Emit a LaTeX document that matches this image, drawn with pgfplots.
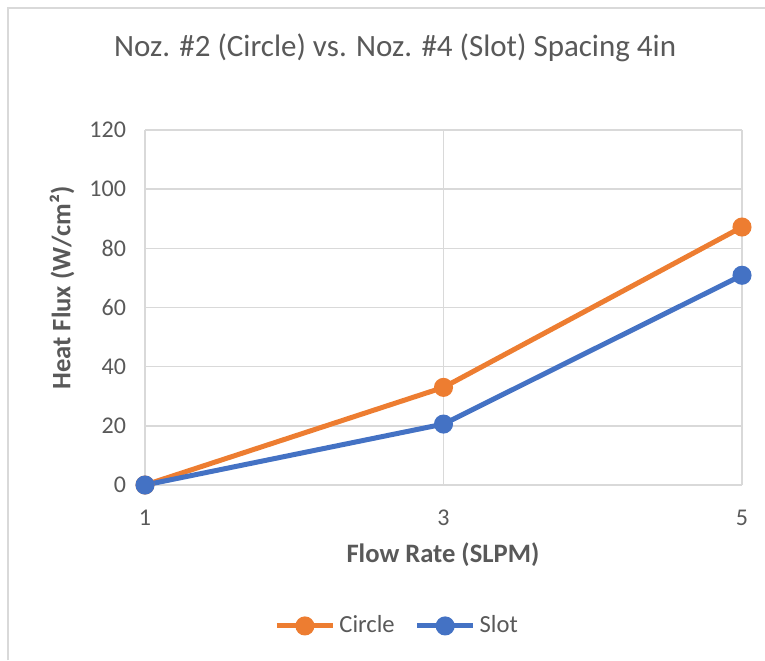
\documentclass[border=0pt]{standalone}
\usepackage{pgfplots}
\pgfplotsset{compat=1.18}
\usepackage{fontspec}
\setmainfont{Carlito}
\definecolor{cOrange}{HTML}{ED7D31}
\definecolor{cBlue}{HTML}{4472C4}
\definecolor{cGrid}{HTML}{D9D9D9}
\definecolor{cText}{HTML}{595959}
\begin{document}
\begin{tikzpicture}
\path[use as bounding box] (0,0) rectangle (382.5pt,330pt);
\draw[cGrid, line width=0.75pt] (4pt,0pt) -- (4pt,326pt) -- (382.5pt,326pt);
\begin{axis}[
  at={(72.5pt,87.5pt)}, anchor=origin,
  scale only axis, width=298.5pt, height=177.5pt,
  xmin=1, xmax=5, ymin=0, ymax=120,
  xtick={1,3,5}, ytick={0,20,...,120},
  axis line style={draw=none},
  major tick length=0pt,
  grid=major,
  major grid style={cGrid, line width=0.75pt},
  tick label style={font=\fontsize{12}{14}\selectfont, text=cText},
  /pgf/number format/assume math mode=true,
  xticklabel style={yshift=-9pt},
  yticklabel style={xshift=-6pt},
  every axis title shift=0pt,
  title={Noz. \#2 (Circle) vs. Noz. \#4 (Slot) Spacing 4in},
  title style={at={(axis description cs:0.419,1.231)}, anchor=center, font=\fontsize{15.5}{18}\selectfont, text=cText},
  xlabel={\textbf{Flow Rate (SLPM)}},
  xlabel style={at={(axis description cs:0.499,-0.197)}, anchor=center, font=\fontsize{13.3}{15}\selectfont, text=cText},
  ylabel={\textbf{Heat Flux (W/cm²)}},
  ylabel style={at={(axis description cs:-0.139,0.555)}, anchor=center, rotate=0, font=\fontsize{13.3}{15}\selectfont, text=cText},
  legend columns=2,
  legend style={at={(axis description cs:0.424,-0.397)}, anchor=center, draw=none, font=\fontsize{12.3}{14}\selectfont, text=cText, /tikz/every even column/.append style={column sep=8pt}},
  legend image code/.code={\draw[#1, mark repeat=2, mark phase=2] plot coordinates {(0pt,0pt) (14pt,0pt) (28pt,0pt)};},
  clip=false,
]
\addplot[cOrange, line width=2.5pt, mark=*, mark size=3.5pt] coordinates {(1,0) (3,33) (5,87.2)};
\addlegendentry{Circle}
\addplot[cBlue, line width=2.5pt, mark=*, mark size=3.5pt] coordinates {(1,0) (3,20.6) (5,70.9)};
\addlegendentry{Slot}
\end{axis}
\end{tikzpicture}
\end{document}
